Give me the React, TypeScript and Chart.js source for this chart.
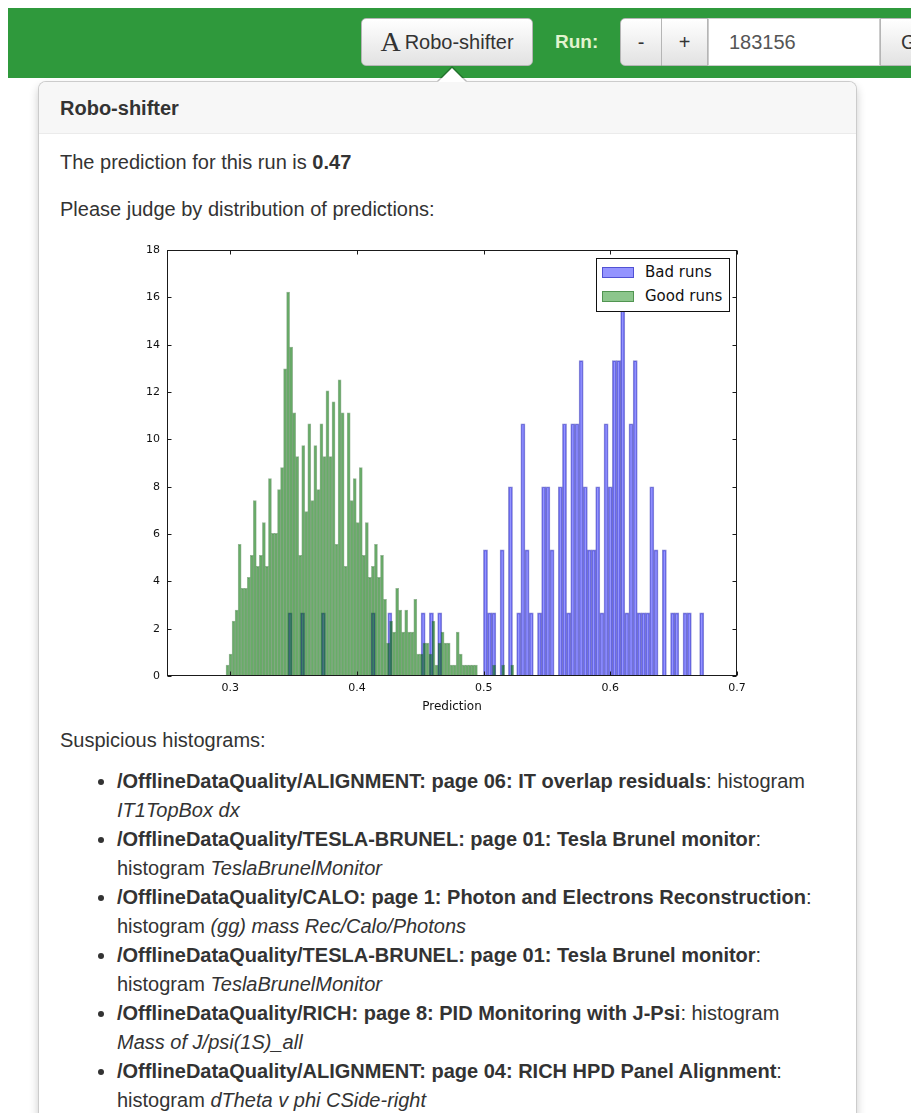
import React, { useEffect, useRef } from "react";
import { Chart, registerables } from "chart.js";

Chart.register(...registerables);

// ---------- chart data ----------
const X_MIN = 0.25;
const X_MAX = 0.7;
const xTickValues = [0.3, 0.4, 0.5, 0.6, 0.7];
const yTickValues = [0, 2, 4, 6, 8, 10, 12, 14, 16, 18];
const xAxisTitle = "Prediction";

const badLabel = "Bad runs";
const goodLabel = "Good runs";

// histogram of bad runs: 100 bins, counts per bin, density per count
const badBinStart = 0.3455;
const badBinWidth = 0.003283;
const badUnit = 2.665;
const badCounts = [
  1, 0, 0, 1, 0, 0, 0, 0, 1, 0,
  0, 0, 0, 0, 0, 0, 0, 0, 0, 0,
  1, 0, 0, 0, 1, 0, 0, 0, 0, 0,
  0, 0, 1, 0, 1, 0, 1, 0, 0, 0,
  0, 0, 0, 0, 0, 0, 0, 2, 1, 1,
  0, 2, 0, 3, 0, 1, 4, 2, 1, 0,
  1, 3, 3, 2, 0, 3, 4, 1, 4, 4,
  5, 3, 2, 2, 3, 1, 4, 3, 5, 5,
  6, 1, 4, 5, 1, 1, 1, 3, 2, 0,
  2, 0, 1, 1, 0, 1, 1, 0, 0, 1,
];

// histogram of good runs: 100 bins, counts per bin, density per count
const goodBinStart = 0.2966;
const goodBinWidth = 0.002391;
const goodUnit = 0.4634;
const goodCounts = [
  1, 2, 5, 6, 12, 8, 8, 9, 11, 16,
  10, 11, 14, 10, 18, 13, 13, 17, 19, 28,
  35, 30, 24, 20, 11, 21, 15, 23, 16, 21,
  17, 23, 20, 26, 20, 25, 12, 27, 24, 10,
  24, 16, 18, 14, 19, 11, 14, 9, 10, 12,
  9, 11, 7, 3, 5, 4, 8, 6, 4, 6,
  4, 4, 7, 2, 2, 3, 3, 2, 5, 1,
  3, 4, 3, 3, 1, 1, 4, 2, 1, 1,
  1, 1, 1, 0, 0, 0, 0, 0, 1, 0,
  0, 1, 0, 0, 1, 0, 0, 0, 0, 0,
];

const badFill = "rgba(0, 0, 255, 0.42)";
const badEdge = "rgba(0, 0, 160, 0.45)";
const goodFill = "rgba(0, 128, 0, 0.45)";
const goodEdge = "rgba(0, 80, 0, 0.42)";

const listItems = [
  { path: "/OfflineDataQuality/ALIGNMENT: page 06: IT overlap residuals", pre: ": histogram", post: "", name: "IT1TopBox dx" },
  { path: "/OfflineDataQuality/TESLA-BRUNEL: page 01: Tesla Brunel monitor", pre: ":", post: "histogram ", name: "TeslaBrunelMonitor" },
  { path: "/OfflineDataQuality/CALO: page 1: Photon and Electrons Reconstruction", pre: ":", post: "histogram ", name: "(gg) mass Rec/Calo/Photons" },
  { path: "/OfflineDataQuality/TESLA-BRUNEL: page 01: Tesla Brunel monitor", pre: ":", post: "histogram ", name: "TeslaBrunelMonitor" },
  { path: "/OfflineDataQuality/RICH: page 8: PID Monitoring with J-Psi", pre: ": histogram", post: "", name: "Mass of J/psi(1S)_all" },
  { path: "/OfflineDataQuality/ALIGNMENT: page 04: RICH HPD Panel Alignment", pre: ":", post: "histogram ", name: "dTheta v phi CSide-right" },
];

const toPoints = (start: number, width: number, counts: number[], unit: number) =>
  counts.map((c, i) => ({ x: start + (i + 0.5) * width, y: c * unit }));

const frameTicks = {
  id: "frameTicks",
  afterDatasetsDraw(chart: any) {
    const { ctx, chartArea: a, scales } = chart;
    const L = Math.round(a.left) + 0.5;
    const R = Math.round(a.right) - 0.5;
    const T = Math.round(a.top) + 0.5;
    const B = Math.round(a.bottom) - 0.5;
    ctx.save();
    ctx.strokeStyle = "#1a1a1a";
    ctx.lineWidth = 1;
    ctx.strokeRect(L, T, R - L, B - T);
    ctx.beginPath();
    xTickValues.forEach((v) => {
      const px = Math.round(scales.x.getPixelForValue(v)) + 0.5;
      ctx.moveTo(px, B);
      ctx.lineTo(px, B - 4);
      ctx.moveTo(px, T);
      ctx.lineTo(px, T + 4);
    });
    yTickValues.forEach((v) => {
      const py = Math.round(scales.y.getPixelForValue(v)) + 0.5;
      ctx.moveTo(L, py);
      ctx.lineTo(L + 4, py);
      ctx.moveTo(R, py);
      ctx.lineTo(R - 4, py);
    });
    ctx.stroke();
    ctx.restore();
  },
};

function HistChart() {
  const ref = useRef<HTMLCanvasElement | null>(null);
  useEffect(() => {
    if (!ref.current) return;
    const tickFont = { family: "'DejaVu Sans', sans-serif", size: 11 };
    const chart = new Chart(ref.current, {
      type: "bar",
      data: {
        datasets: [
          {
            label: badLabel,
            data: toPoints(badBinStart, badBinWidth, badCounts, badUnit),
            xAxisID: "x",
            backgroundColor: badFill,
            borderColor: badEdge,
            borderWidth: 1,
            grouped: false,
            barPercentage: 1,
            categoryPercentage: 1,
            order: 1,
          } as any,
          {
            label: goodLabel,
            data: toPoints(goodBinStart, goodBinWidth, goodCounts, goodUnit),
            xAxisID: "x2",
            backgroundColor: goodFill,
            borderColor: goodEdge,
            borderWidth: 1,
            grouped: false,
            barPercentage: 1,
            categoryPercentage: 1,
            order: 0,
          } as any,
        ],
      },
      options: {
        animation: false,
        responsive: false,
        maintainAspectRatio: false,
        layout: { padding: { top: 15, right: 23, left: 0, bottom: 0 } },
        plugins: { legend: { display: false }, tooltip: { enabled: false } },
        scales: {
          x: {
            type: "linear",
            min: X_MIN,
            max: X_MAX,
            offset: false,
            grid: { display: false, drawTicks: false, offset: false },
            border: { display: false },
            afterBuildTicks: (s: any) => {
              s.ticks = xTickValues.map((v) => ({ value: v }));
            },
            ticks: {
              font: tickFont,
              color: "#111",
              padding: 6,
              maxRotation: 0,
              autoSkip: false,
              callback: (v: any) => Number(v).toFixed(1),
            },
            title: {
              display: true,
              text: xAxisTitle,
              color: "#111",
              font: { family: "'DejaVu Sans', sans-serif", size: 12 },
              padding: { top: 0, bottom: 6 },
            },
            afterFit: (s: any) => {
              s.height = 44;
            },
          },
          x2: {
            type: "linear",
            min: X_MIN,
            max: X_MAX,
            offset: false,
            grid: { offset: false },
            display: false,
          },
          y: {
            type: "linear",
            min: 0,
            max: 18,
            grid: { display: false, drawTicks: false },
            border: { display: false },
            afterBuildTicks: (s: any) => {
              s.ticks = yTickValues.map((v) => ({ value: v }));
            },
            ticks: { font: tickFont, color: "#111", padding: 7 },
            afterFit: (s: any) => {
              s.width = 57;
            },
          },
        },
      } as any,
      plugins: [frameTicks],
    });
    return () => chart.destroy();
  }, []);
  return (
    <canvas
      ref={ref}
      width={650}
      height={485}
      style={{ position: "absolute", left: 110, top: 235, width: 650, height: 485 }}
    />
  );
}

const btnBg = "linear-gradient(to bottom, #ffffff 0%, #e2e2e2 100%)";

export default function App() {
  const legendEntries = [
    { label: badLabel, fill: badFill, edge: badEdge },
    { label: goodLabel, fill: goodFill, edge: goodEdge },
  ];
  return (
    <div
      style={{
        position: "absolute",
        left: 0,
        top: 0,
        width: 911,
        height: 1113,
        overflow: "hidden",
        background: "#fff",
        fontFamily: "'Liberation Sans', Arial, sans-serif",
        color: "#333",
        fontSize: 20,
      }}
    >
      {/* navbar */}
      <div style={{ position: "absolute", left: 8, top: 8, width: 903, height: 70, background: "rgb(47,153,60)" }} />
      <div
        style={{
          position: "absolute", left: 361, top: 18, width: 172, height: 48, boxSizing: "border-box",
          background: btnBg, border: "1px solid #b5b5b5", borderRadius: 5,
          display: "flex", alignItems: "center", justifyContent: "center", color: "#333",
        }}
      >
        <span style={{ fontFamily: "'Liberation Serif', serif", fontSize: 28, marginRight: 4 }}>A</span>
        <span style={{ fontSize: 20 }}>Robo-shifter</span>
      </div>
      <div style={{ position: "absolute", left: 555, top: 18, height: 48, lineHeight: "48px", fontWeight: "bold", fontSize: 19, color: "#e2f3cf" }}>
        Run:
      </div>
      <div style={{ position: "absolute", left: 620, top: 18, width: 42, height: 48, boxSizing: "border-box", background: btnBg, border: "1px solid #b5b5b5", borderRadius: "5px 0 0 5px", textAlign: "center", lineHeight: "46px" }}>-</div>
      <div style={{ position: "absolute", left: 662, top: 18, width: 46, height: 48, boxSizing: "border-box", background: btnBg, border: "1px solid #b5b5b5", borderLeft: "none", textAlign: "center", lineHeight: "46px" }}>+</div>
      <div style={{ position: "absolute", left: 708, top: 18, width: 172, height: 48, boxSizing: "border-box", background: "#fff", border: "1px solid #ccc", paddingLeft: 20, lineHeight: "46px", color: "#555" }}>183156</div>
      <div style={{ position: "absolute", left: 880, top: 18, width: 70, height: 48, boxSizing: "border-box", background: btnBg, border: "1px solid #b5b5b5", paddingLeft: 20, lineHeight: "46px" }}>Go</div>

      {/* popover */}
      <div
        style={{
          position: "absolute", left: 38, top: 81, width: 819, height: 1100, boxSizing: "border-box",
          background: "#fff", border: "1px solid rgba(0,0,0,0.2)", borderRadius: 8,
          boxShadow: "0 5px 10px rgba(0,0,0,0.2)",
        }}
      >
        <div
          style={{
            height: 52, boxSizing: "border-box", background: "#f7f7f7", borderBottom: "1px solid #ebebeb",
            borderRadius: "7px 7px 0 0", padding: "0 21px", lineHeight: "52px", fontWeight: "bold", fontSize: 20,
          }}
        >
          Robo-shifter
        </div>
      </div>
      <div style={{ position: "absolute", left: 437, top: 66, width: 0, height: 0, borderLeft: "15px solid transparent", borderRight: "15px solid transparent", borderBottom: "15px solid rgba(0,0,0,0.25)" }} />
      <div style={{ position: "absolute", left: 438, top: 68, width: 0, height: 0, borderLeft: "14px solid transparent", borderRight: "14px solid transparent", borderBottom: "14px solid #fff" }} />

      <div style={{ position: "absolute", left: 60, top: 148, lineHeight: "28px", whiteSpace: "nowrap" }}>
        The prediction for this run is <b>0.47</b>
      </div>
      <div style={{ position: "absolute", left: 60, top: 195, lineHeight: "28px", whiteSpace: "nowrap" }}>
        Please judge by distribution of predictions:
      </div>

      <HistChart />

      {/* legend */}
      <div
        style={{
          position: "absolute", left: 596, top: 258, width: 134, height: 54, boxSizing: "border-box",
          background: "#fff", border: "1px solid #111", fontFamily: "'DejaVu Sans', sans-serif", fontSize: 15, color: "#111",
        }}
      >
        {legendEntries.map((e, i) => (
          <div key={e.label} style={{ position: "absolute", left: 5, top: 2 + i * 24, height: 22, display: "flex", alignItems: "center", whiteSpace: "nowrap" }}>
            <span style={{ display: "inline-block", width: 32, height: 11, boxSizing: "border-box", background: e.fill, border: `1px solid ${e.edge}`, marginRight: 11 }} />
            <span>{e.label}</span>
          </div>
        ))}
      </div>

      <div style={{ position: "absolute", left: 60, top: 726, lineHeight: "28px", whiteSpace: "nowrap" }}>
        Suspicious histograms:
      </div>
      <ul style={{ position: "absolute", left: 60, top: 767, margin: 0, paddingLeft: 57, lineHeight: "29px", whiteSpace: "nowrap", listStyleType: "disc" }}>
        {listItems.map((it, i) => (
          <li key={i}>
            <b>{it.path}</b>
            {it.pre}
            <br />
            {it.post}
            <i>{it.name}</i>
          </li>
        ))}
      </ul>
    </div>
  );
}
